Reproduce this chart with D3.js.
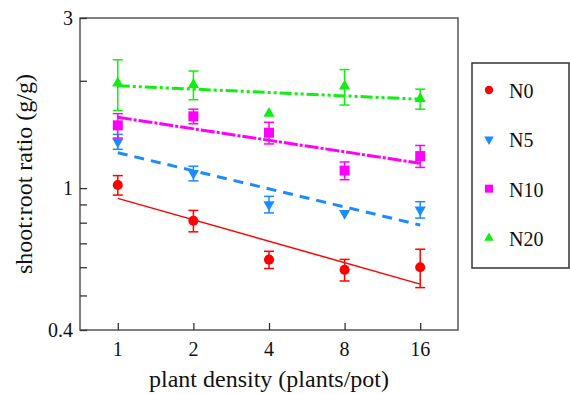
<!DOCTYPE html>
<html>
<head>
<meta charset="utf-8">
<script src="https://cdnjs.cloudflare.com/ajax/libs/d3/7.8.5/d3.min.js"></script>
<style>
  body { margin: 0; background: #fff; }
  text { font-family: "Liberation Serif", "Times New Roman", serif; fill: #111; }
</style>
</head>
<body>
<svg id="chart" width="570" height="394"></svg>
<script>
// plant density levels (plants per pot)
var densities = [1, 2, 4, 8, 16];
var seriesNames = ["N0", "N5", "N10", "N20"];

// mean shoot:root ratio per density
var n0 = [1.02, 0.81, 0.63, 0.59, 0.60];
var n5 = [1.35, 1.10, 0.90, 0.85, 0.87];
var n10 = [1.50, 1.59, 1.43, 1.12, 1.23];
var n20 = [1.97, 1.95, 1.62, 1.93, 1.78];

// standard errors
var n0Err = [0.064, 0.056, 0.035, 0.041, 0.074];
var n5Err = [0.065, 0.052, 0.048, 0.0, 0.046];
var n10Err = [0.118, 0.075, 0.10, 0.064, 0.087];
var n20Err = [0.32, 0.18, 0.0, 0.22, 0.115];

// regression line ends (value at density 1 and 16)
var fitStart = [0.936, 1.257, 1.58, 1.937];
var fitEnd = [0.538, 0.788, 1.174, 1.775];

var yTickLabels = [3, 1, 0.4];
var yMinorTicks = [2, 0.9, 0.8, 0.7, 0.6, 0.5];

var colors = ["#ff0000", "#1a8cff", "#ff00ff", "#11ee11"];
var dashes = [null, "10,7", "14,2,3,2", "12,3,3,3,3,3"];
var lineWidths = [1.5, 3, 3, 3];

var means = [n0, n5, n10, n20];
var errs = [n0Err, n5Err, n10Err, n20Err];

var svg = d3.select("#chart");
var plotL = 80, plotR = 458, plotT = 18, plotB = 330;

var x = d3.scaleLog().base(2)
  .domain([Math.pow(2, -0.5), Math.pow(2, 4.5)])
  .range([plotL, plotR]);
var y = d3.scaleLog()
  .domain([0.4, 3])
  .range([plotB, plotT]);

// frame
svg.append("rect")
  .attr("x", plotL).attr("y", plotT)
  .attr("width", plotR - plotL).attr("height", plotB - plotT)
  .style("fill", "none").style("stroke", "#555").style("stroke-width", 1.5);

// x axis ticks (inside)
svg.append("g")
  .attr("transform", "translate(0," + plotB + ")")
  .call(d3.axisTop(x).tickValues(densities).tickSize(7).tickFormat(""))
  .call(function(g) { g.select(".domain").remove(); })
  .selectAll("line").style("stroke", "#333").style("stroke-width", 1.3);

svg.selectAll(".xlab")
  .data(densities)
  .enter().append("text")
  .attr("class", "xlab")
  .attr("x", function(d) { return x(d); })
  .attr("y", 356)
  .attr("text-anchor", "middle")
  .style("font-size", "20px")
  .text(function(d) { return d; });

// y axis ticks (inside)
svg.append("g")
  .attr("transform", "translate(" + plotL + ",0)")
  .call(d3.axisRight(y).tickValues(yTickLabels.concat(yMinorTicks)).tickSize(7).tickFormat(""))
  .call(function(g) { g.select(".domain").remove(); })
  .selectAll("line").style("stroke", "#333").style("stroke-width", 1.3);

svg.selectAll(".ylab")
  .data(yTickLabels)
  .enter().append("text")
  .attr("class", "ylab")
  .attr("x", 73)
  .attr("y", function(d) { return y(d) + 7; })
  .attr("text-anchor", "end")
  .style("font-size", "20px")
  .text(function(d) { return d; });

// axis titles
svg.append("text")
  .attr("x", (plotL + plotR) / 2)
  .attr("y", 387)
  .attr("text-anchor", "middle")
  .style("font-size", "24px")
  .text("plant density (plants/pot)");

svg.append("text")
  .attr("transform", "translate(32," + ((plotT + plotB) / 2) + ") rotate(-90)")
  .attr("text-anchor", "middle")
  .style("font-size", "24px")
  .text("shoot:root ratio (g/g)");

var shapes = [
  d3.symbol().type(d3.symbolCircle).size(80),
  d3.symbol().type(d3.symbolTriangle).size(55),
  d3.symbol().type(d3.symbolSquare).size(100),
  d3.symbol().type(d3.symbolTriangle).size(55)
];
var rotations = [0, 180, 0, 0];

seriesNames.forEach(function(name, i) {
  var g = svg.append("g").attr("class", "series-" + name);

  // fit line
  g.append("line")
    .attr("x1", x(densities[0])).attr("y1", y(fitStart[i]))
    .attr("x2", x(densities[densities.length - 1])).attr("y2", y(fitEnd[i]))
    .style("stroke", colors[i])
    .style("stroke-width", lineWidths[i])
    .style("stroke-dasharray", dashes[i]);

  var pts = densities.map(function(d, j) {
    return { d: d, v: means[i][j], e: errs[i][j] };
  });

  // error bars
  var eb = g.selectAll(".eb").data(pts.filter(function(p) { return p.e > 0; }))
    .enter().append("g").style("stroke", colors[i]).style("stroke-width", 1.5);
  eb.append("line")
    .attr("x1", function(p) { return x(p.d); }).attr("x2", function(p) { return x(p.d); })
    .attr("y1", function(p) { return y(p.v + p.e); }).attr("y2", function(p) { return y(p.v - p.e); });
  eb.append("line")
    .attr("x1", function(p) { return x(p.d) - 5; }).attr("x2", function(p) { return x(p.d) + 5; })
    .attr("y1", function(p) { return y(p.v + p.e); }).attr("y2", function(p) { return y(p.v + p.e); });
  eb.append("line")
    .attr("x1", function(p) { return x(p.d) - 5; }).attr("x2", function(p) { return x(p.d) + 5; })
    .attr("y1", function(p) { return y(p.v - p.e); }).attr("y2", function(p) { return y(p.v - p.e); });

  // markers
  g.selectAll(".pt").data(pts)
    .enter().append("path")
    .attr("d", shapes[i])
    .attr("transform", function(p) {
      return "translate(" + x(p.d) + "," + y(p.v) + ") rotate(" + rotations[i] + ")";
    })
    .style("fill", colors[i]);
});

// legend
svg.append("rect")
  .attr("x", 472).attr("y", 63)
  .attr("width", 97).attr("height", 205)
  .style("fill", "#fff").style("stroke", "#333").style("stroke-width", 1.5);

var legendShapes = [
  d3.symbol().type(d3.symbolCircle).size(55),
  d3.symbol().type(d3.symbolTriangle).size(40),
  d3.symbol().type(d3.symbolSquare).size(64),
  d3.symbol().type(d3.symbolTriangle).size(40)
];
var legendY = d3.scalePoint().domain(seriesNames).range([90, 238]);

var legend = svg.selectAll(".legend")
  .data(seriesNames)
  .enter().append("g")
  .attr("class", "legend")
  .attr("transform", function(d) { return "translate(489," + legendY(d) + ")"; });

legend.append("path")
  .attr("d", function(d, i) { return legendShapes[i](); })
  .attr("transform", function(d, i) { return "rotate(" + rotations[i] + ")"; })
  .style("fill", function(d, i) { return colors[i]; });

legend.append("text")
  .attr("x", 20)
  .attr("y", 8)
  .style("font-size", "20px")
  .text(function(d) { return d; });
</script>
</body>
</html>
